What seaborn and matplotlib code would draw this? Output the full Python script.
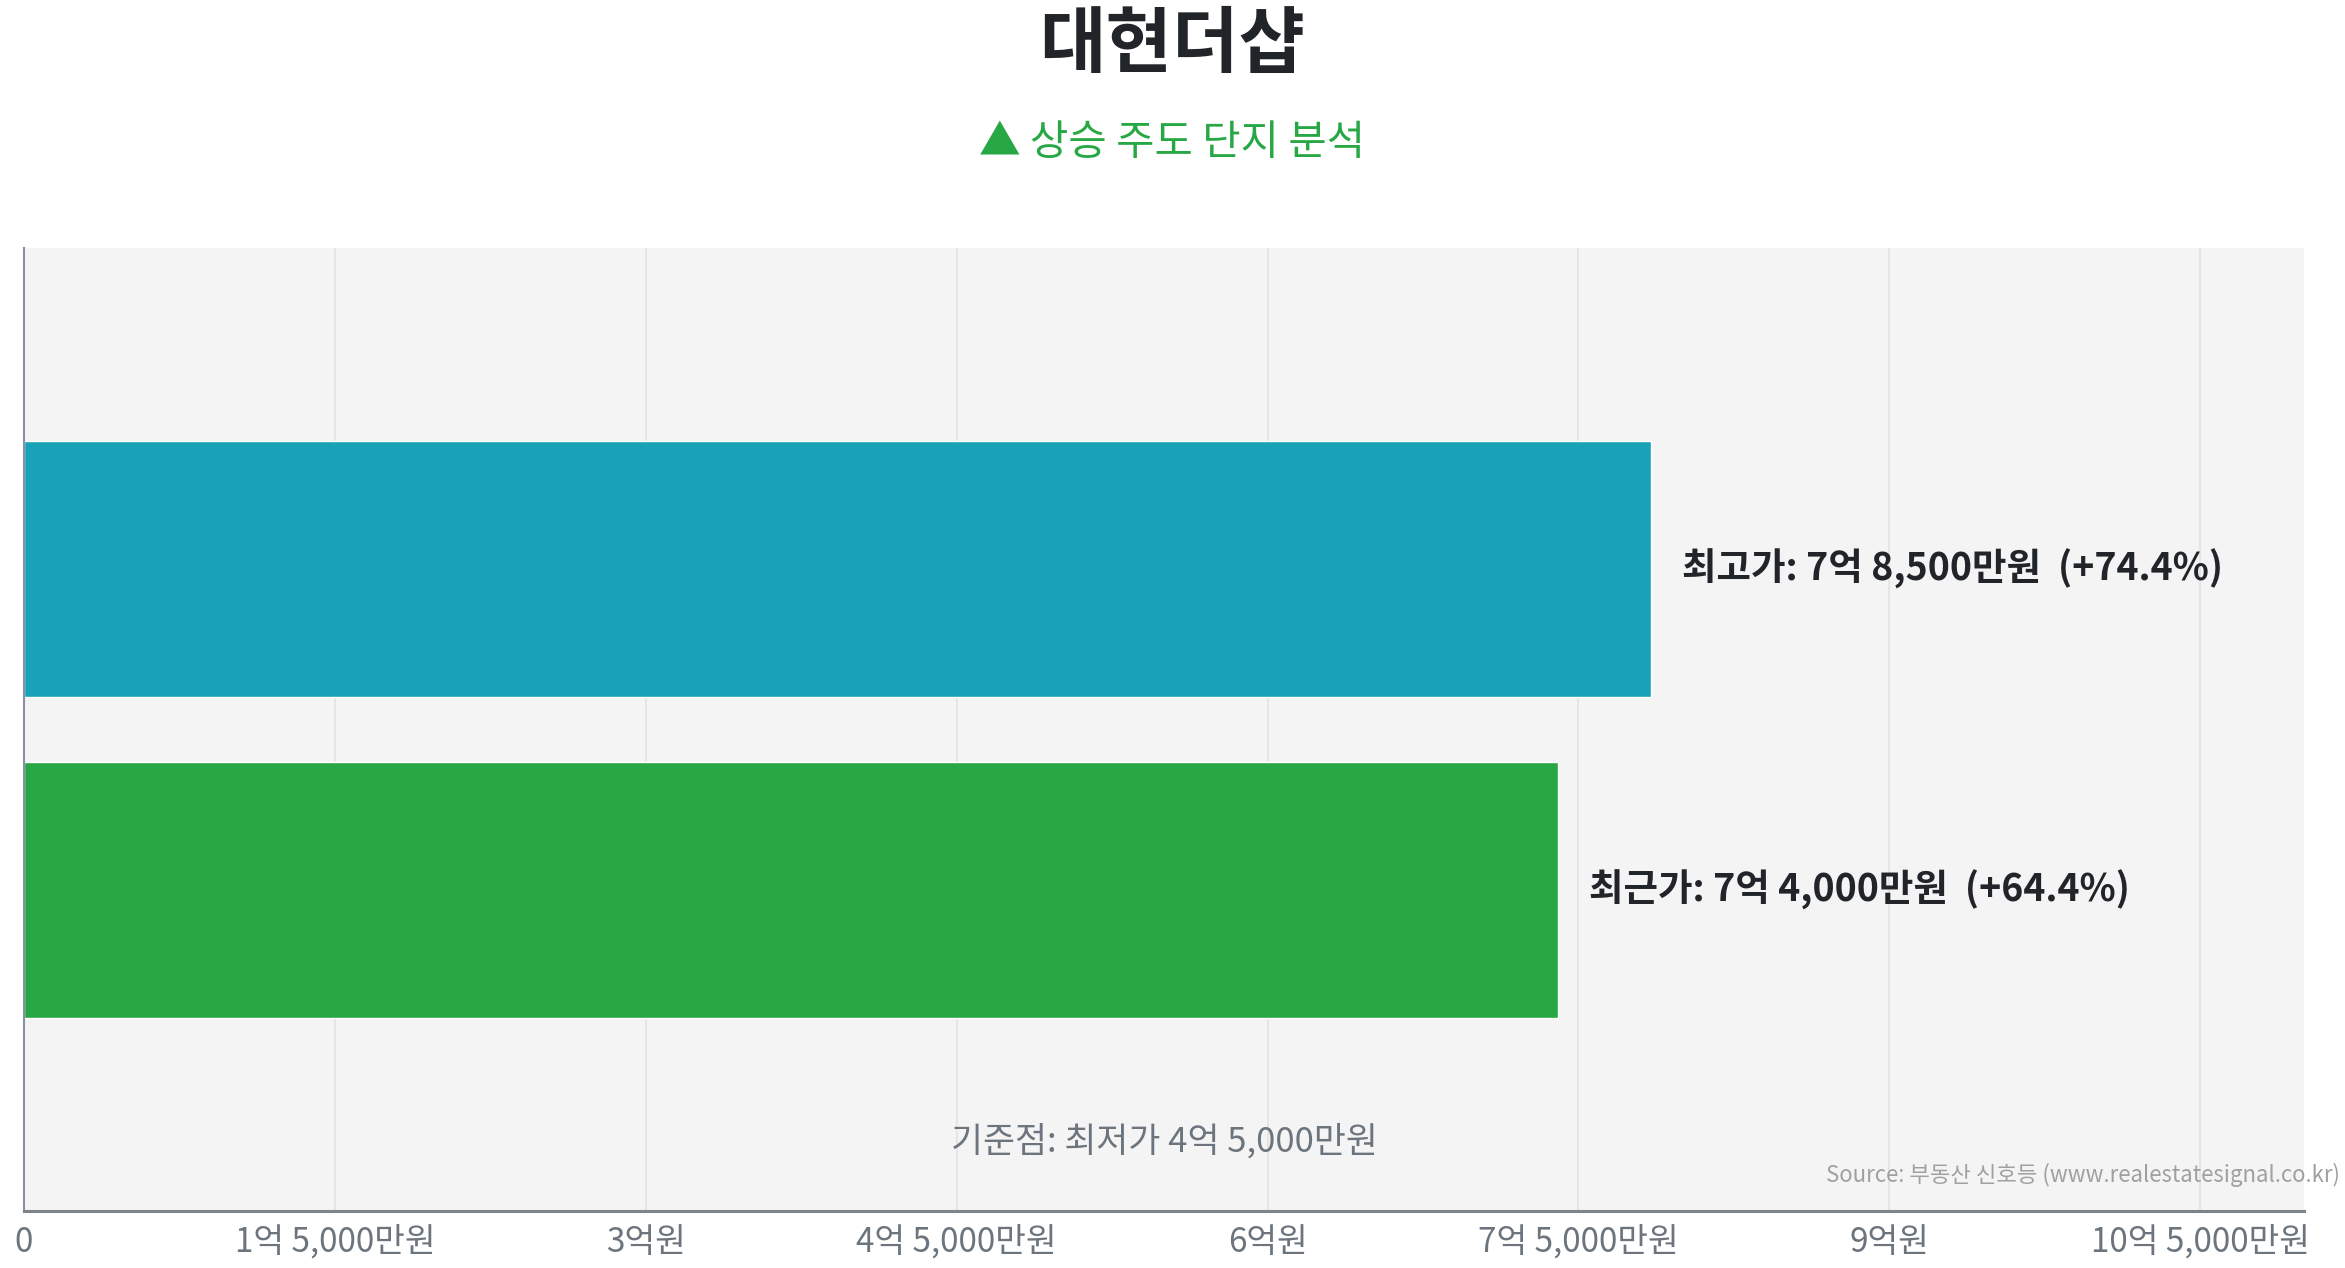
#_Environment Set up -----------------
import pandas as pd
import matplotlib
matplotlib.use("Agg")
import matplotlib.pyplot as plt
from matplotlib.ticker import FuncFormatter, MultipleLocator
import seaborn as sns

#_Data -----------------
labels = ['최고가', '최근가']
prices = [785000000, 740000000]
bar_colors = ['#17a2b8', '#28a745']
base_price = 450000000
title_text = '대현더샵'
subtitle_text = '▲ 상승 주도 단지 분석'
source_text = 'Source: 부동산 신호등 (www.realestatesignal.co.kr)'

df = pd.DataFrame({'label': labels, 'price': prices})

#_Helpers -----------------
def won(v, pos=None):
    v = int(round(v))
    if v == 0:
        return '0'
    eok = v // 100000000
    man = (v % 100000000) // 10000
    if man == 0:
        return f'{eok}억원'
    if eok == 0:
        return f'{man:,}만원'
    return f'{eok}억 {man:,}만원'

#_Style -----------------
sns.set_theme(style='white')
plt.rcParams['font.family'] = ['Noto Sans CJK KR', 'DejaVu Sans']

fig = plt.figure(figsize=(23.45, 12.68), dpi=100)
ax = fig.add_axes([0.0102, 0.045, 0.9723, 0.7594])
ax.set_facecolor('#f4f4f4')

sns.barplot(data=df, x='price', y='label', hue='label', palette=bar_colors,
            orient='h', width=0.8, legend=False, ax=ax, saturation=1)

ax.set_xlim(0, 1100000000)
ax.set_ylim(2, -1)
ax.xaxis.set_major_locator(MultipleLocator(150000000))
ax.xaxis.set_major_formatter(FuncFormatter(won))
ax.grid(axis='x', color='#e3e3e3', linewidth=1.2)
ax.set_axisbelow(True)
ax.set_yticks([])
ax.set_xlabel('')
ax.set_ylabel('')
ax.tick_params(axis='x', colors='#6c757d', labelsize=24, length=8, width=1.2, pad=2)
for lab in ax.get_xticklabels():
    lab.set_color('#6c757d')

for s in ['top', 'right']:
    ax.spines[s].set_visible(False)
ax.spines['left'].set_color('#8a8fa3')
ax.spines['left'].set_linewidth(1.5)
ax.spines['bottom'].set_color('#7d848b')
ax.spines['bottom'].set_linewidth(2.2)

#_Bar labels -----------------
for i, (lab, p) in enumerate(zip(labels, prices)):
    pct = (p / base_price - 1) * 100
    ax.text(p + 15000000, i, f'{lab}: {won(p)}  (+{pct:.1f}%)', va='center', ha='left',
            fontsize=27, fontweight='bold', color='#212529')

ax.text(0.5, 0.072, f'기준점: 최저가 {won(base_price)}', transform=ax.transAxes,
        ha='center', va='center', fontsize=25, color='#6c757d')

#_Titles -----------------
fig.text(0.5, 0.964, title_text, ha='center', va='center', fontsize=52,
         fontweight='bold', color='#212529')
fig.text(0.5, 0.887, subtitle_text, ha='center', va='center', fontsize=30,
         color='#28a745')
fig.text(0.998, 0.073, source_text, ha='right', va='center', fontsize=16,
         color='#a0a0a0')

fig.savefig('out.png', dpi=100)
plt.close()
